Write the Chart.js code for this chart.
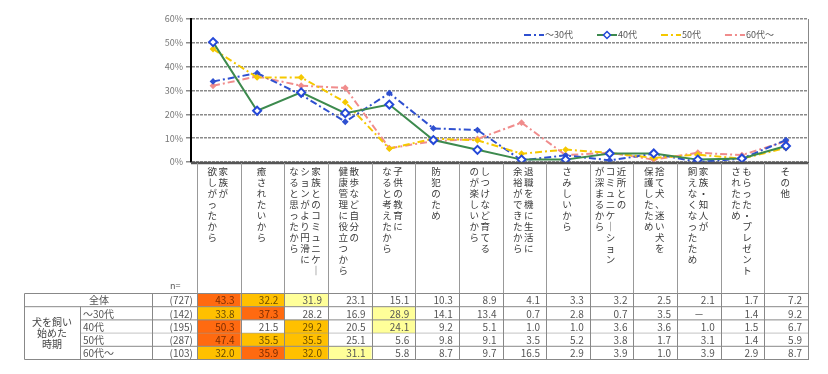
<!DOCTYPE html>
<html>
<head>
<meta charset="utf-8">
<script src="https://cdn.jsdelivr.net/npm/chart.js@4/dist/chart.umd.min.js"></script>
<style>
  html, body { margin: 0; padding: 0; background: #fff; }
  #wrap { width: 828px; height: 374px; }
</style>
</head>
<body>
<div id="wrap"><canvas id="chart" width="828" height="374"></canvas></div>
<script>
// categories: each label split into its vertical text columns, right column first
const categories = [
  ['家族が', '欲しがったから'],
  ['癒されたいから'],
  ['家族とのコミュニケー', 'ションがより円滑に', 'なると思ったから'],
  ['散歩など自分の', '健康管理に役立つから'],
  ['子供の教育に', 'なると考えたから'],
  ['防犯のため'],
  ['しつけなど育てる', 'のが楽しいから'],
  ['退職を機に生活に', '余裕ができたから'],
  ['さみしいから'],
  ['近所との', 'コミュニケーション', 'が深まるから'],
  ['捨て犬、迷い犬を', '保護したため'],
  ['家族・知人が', '飼えなくなったため'],
  ['もらった・プレゼント', 'されたため'],
  ['その他']
];

const seriesNames = ['～30代', '40代', '50代', '60代～'];
const rowLabels = ['全体', '～30代', '40代', '50代', '60代～'];
const sampleSizes = [727, 142, 195, 287, 103];

const totalRow = [43.3, 32.2, 31.9, 23.1, 15.1, 10.3, 8.9, 4.1, 3.3, 3.2, 2.5, 2.1, 1.7, 7.2];
const age30 = [33.8, 37.3, 28.2, 16.9, 28.9, 14.1, 13.4, 0.7, 2.8, 0.7, 3.5, null, 1.4, 9.2];
const age40 = [50.3, 21.5, 29.2, 20.5, 24.1, 9.2, 5.1, 1.0, 1.0, 3.6, 3.6, 1.0, 1.5, 6.7];
const age50 = [47.4, 35.5, 35.5, 25.1, 5.6, 9.8, 9.1, 3.5, 5.2, 3.8, 1.7, 3.1, 1.4, 5.9];
const age60 = [32.0, 35.9, 32.0, 31.1, 5.8, 8.7, 9.7, 16.5, 2.9, 3.9, 1.0, 3.9, 2.9, 8.7];

// top-3 marks shown in the table (1 = first, 2 = second, 3 = third)
const topMarks = [
  [1, 2, 3, 0, 0, 0, 0, 0, 0, 0, 0, 0, 0, 0],
  [2, 1, 0, 0, 3, 0, 0, 0, 0, 0, 0, 0, 0, 0],
  [1, 0, 2, 0, 3, 0, 0, 0, 0, 0, 0, 0, 0, 0],
  [1, 2, 2, 0, 0, 0, 0, 0, 0, 0, 0, 0, 0, 0],
  [2, 1, 2, 3, 0, 0, 0, 0, 0, 0, 0, 0, 0, 0]
];

const yMax = 60;
const yStep = 10;

const FONT = '"Noto Sans CJK JP", "Noto Sans", sans-serif';
const markFill = ['', '#FF6A10', '#FFC000', '#FFFF99'];
const markText = ['#555', '#7A2C00', '#6A4A00', '#555'];

function line(ctx, x1, y1, x2, y2) {
    ctx.beginPath();
    ctx.moveTo(x1, y1);
    ctx.lineTo(x2, y2);
    ctx.stroke();
}

function drawVerticalLabel(ctx, columns, cx, top, step) {
    const n = columns.length;
    columns.forEach((s, j) => {
        const xx = cx + ((n - 1) / 2 - j) * step;
        [...s].forEach((ch, k) => {
            const c = ch === 'ー' ? '｜' : ch;
            ctx.fillText(c, xx, top + k * step);
        });
    });
}

const tablePlugin = {
    id: 'tablePlugin',
    afterDraw(chart) {
        const ctx = chart.ctx;
        const a = chart.chartArea;
        const n = categories.length;
        const colStart = a.left + 6;
        const colW = (a.right - colStart) / n;
        const labelTop = a.bottom + 1;
        const rows = [totalRow, age30, age40, age50, age60];
        const tableTop = 293.5, rowH = 13.2;
        const tableBottom = tableTop + rows.length * rowH;
        const tableLeft = 24.5, groupRight = 80.5, nameRight = 152.5;

        ctx.save();

        // plot frame right side and x axis
        ctx.strokeStyle = '#888';
        ctx.lineWidth = 1;
        line(ctx, a.right + 0.5, a.top, a.right + 0.5, a.bottom);
        ctx.strokeStyle = '#555';
        ctx.lineWidth = 2.5;
        line(ctx, a.left, a.bottom + 1, a.right + 1, a.bottom + 1);

        // legend inside the plot area
        ctx.font = '9px ' + FONT;
        ctx.textBaseline = 'middle';
        ctx.textAlign = 'left';
        let lx = 524;
        const ly = 35;
        chart.data.datasets.forEach(ds => {
            ctx.strokeStyle = ds.borderColor;
            ctx.lineWidth = 2;
            ctx.setLineDash(ds.borderDash || []);
            line(ctx, lx, ly, lx + 20, ly);
            ctx.setLineDash([]);
            if (ds.pointRadius >= 4) {
                ctx.fillStyle = ds.pointBackgroundColor;
                ctx.strokeStyle = ds.pointBorderColor;
                ctx.lineWidth = 1.5;
                ctx.beginPath();
                ctx.moveTo(lx + 10, ly - 3.5);
                ctx.lineTo(lx + 13.5, ly);
                ctx.lineTo(lx + 10, ly + 3.5);
                ctx.lineTo(lx + 6.5, ly);
                ctx.closePath();
                ctx.fill();
                ctx.stroke();
            }
            ctx.fillStyle = '#555';
            ctx.fillText(ds.label, lx + 21, ly);
            lx += 21 + ctx.measureText(ds.label).width + 24;
        });

        // category label area
        ctx.strokeStyle = '#999';
        ctx.lineWidth = 1;
        for (let i = 0; i <= n; i++) {
            const xx = Math.round(colStart + i * colW) + 0.5;
            line(ctx, xx, labelTop, xx, tableTop);
        }
        ctx.fillStyle = '#3a3a3a';
        ctx.font = '9.5px ' + FONT;
        ctx.textAlign = 'center';
        ctx.textBaseline = 'top';
        categories.forEach((cols, i) => {
            drawVerticalLabel(ctx, cols, colStart + (i + 0.5) * colW - 1, labelTop + 4, 11);
        });

        // table cells
        ctx.font = '10px ' + FONT;
        rows.forEach((vals, r) => {
            const y0 = tableTop + r * rowH;
            vals.forEach((v, i) => {
                const mark = topMarks[r][i];
                const x0 = colStart + i * colW;
                if (mark) {
                    ctx.fillStyle = markFill[mark];
                    ctx.fillRect(x0, y0, colW, rowH);
                }
                ctx.fillStyle = markText[mark];
                ctx.textBaseline = 'middle';
                if (v === null) {
                    ctx.textAlign = 'center';
                    ctx.fillText('－', x0 + colW / 2, y0 + rowH / 2 + 0.5);
                } else {
                    ctx.textAlign = 'right';
                    ctx.fillText(v.toFixed(1), x0 + colW - 6, y0 + rowH / 2 + 0.5);
                }
            });
            // row name and n
            ctx.fillStyle = '#555';
            if (r === 0) {
                ctx.textAlign = 'center';
                ctx.fillText(rowLabels[r], 99, y0 + rowH / 2 + 0.5);
            } else {
                ctx.textAlign = 'left';
                ctx.fillText(rowLabels[r], 83, y0 + rowH / 2 + 0.5);
            }
            ctx.textAlign = 'right';
            ctx.fillText('(' + sampleSizes[r] + ')', colStart - 4, y0 + rowH / 2 + 0.5);
        });
        ctx.fillStyle = '#555';
        ctx.font = '9px ' + FONT;
        ctx.textAlign = 'left';
        ctx.fillText('n=', 170, 286);

        // group label
        ctx.font = '10px ' + FONT;
        ctx.fillStyle = '#444';
        ctx.textAlign = 'center';
        const gMid = tableTop + rowH + (rows.length - 1) * rowH / 2;
        ['犬を飼い', '始めた', '時期'].forEach((s, k) => {
            ctx.fillText(s, 52, gMid + (k - 1) * 11);
        });

        // table grid
        ctx.strokeStyle = '#888';
        ctx.lineWidth = 1;
        line(ctx, tableLeft, tableTop, a.right + 1, tableTop);
        line(ctx, tableLeft, tableTop + rowH, a.right + 1, tableTop + rowH);
        for (let r = 2; r < rows.length; r++) {
            const yy = tableTop + r * rowH;
            if (r === 3) ctx.setLineDash([1, 1]);
            line(ctx, groupRight, yy, a.right + 1, yy);
            ctx.setLineDash([]);
        }
        line(ctx, tableLeft, tableBottom, a.right + 1, tableBottom);
        line(ctx, tableLeft, tableTop, tableLeft, tableBottom);
        line(ctx, groupRight, tableTop + rowH, groupRight, tableBottom);
        line(ctx, nameRight, tableTop, nameRight, tableBottom);
        for (let i = 0; i <= n; i++) {
            const xx = Math.round(colStart + i * colW) + 0.5;
            line(ctx, xx, tableTop, xx, tableBottom);
        }

        ctx.restore();
    }
};

const dashDot = [7, 3, 2, 3];

new Chart(document.getElementById('chart'), {
    type: 'line',
    data: {
        labels: categories.map(c => c.join('')),
        datasets: [
            {
                label: seriesNames[0],
                data: age30.map(v => v ?? 0),
                borderColor: '#2F50D0',
                backgroundColor: '#2F50D0',
                borderDash: dashDot,
                borderWidth: 2,
                pointStyle: 'rectRot',
                pointRadius: 2,
                pointBackgroundColor: '#2F50D0',
                pointBorderColor: '#2F50D0',
                order: 2
            },
            {
                label: seriesNames[1],
                data: age40,
                borderColor: '#3D8A4E',
                backgroundColor: '#3D8A4E',
                borderWidth: 2,
                pointStyle: 'rectRot',
                pointRadius: 4,
                pointBorderWidth: 2,
                pointBackgroundColor: '#ffffff',
                pointBorderColor: '#2448D8',
                order: 0
            },
            {
                label: seriesNames[2],
                data: age50,
                borderColor: '#F5C800',
                backgroundColor: '#F5C800',
                borderDash: dashDot,
                borderWidth: 2,
                pointStyle: 'rectRot',
                pointRadius: 2,
                pointBackgroundColor: '#F5C800',
                pointBorderColor: '#F5C800',
                order: 1
            },
            {
                label: seriesNames[3],
                data: age60,
                borderColor: '#F08C8C',
                backgroundColor: '#F08C8C',
                borderDash: dashDot,
                borderWidth: 2,
                pointStyle: 'rectRot',
                pointRadius: 2,
                pointBackgroundColor: '#F08C8C',
                pointBorderColor: '#F08C8C',
                order: 3
            }
        ]
    },
    options: {
        responsive: false,
        animation: false,
        devicePixelRatio: 1,
        layout: { padding: { left: 0, right: 20, top: 19, bottom: 212 } },
        plugins: {
            legend: { display: false },
            tooltip: { enabled: false }
        },
        scales: {
            x: { display: false, offset: true },
            y: {
                min: 0,
                max: yMax,
                ticks: {
                    stepSize: yStep,
                    callback: v => v + '%',
                    color: '#777',
                    font: { size: 9, family: FONT },
                    padding: 3
                },
                grid: { color: '#8a8a8a', lineWidth: 1.5, tickLength: 5, tickColor: '#8a8a8a' },
                border: { color: '#000', width: 2, dash: [3, 1] },
                afterFit(scale) { scale.width = 191; }
            }
        }
    },
    plugins: [tablePlugin]
});
</script>
</body>
</html>
